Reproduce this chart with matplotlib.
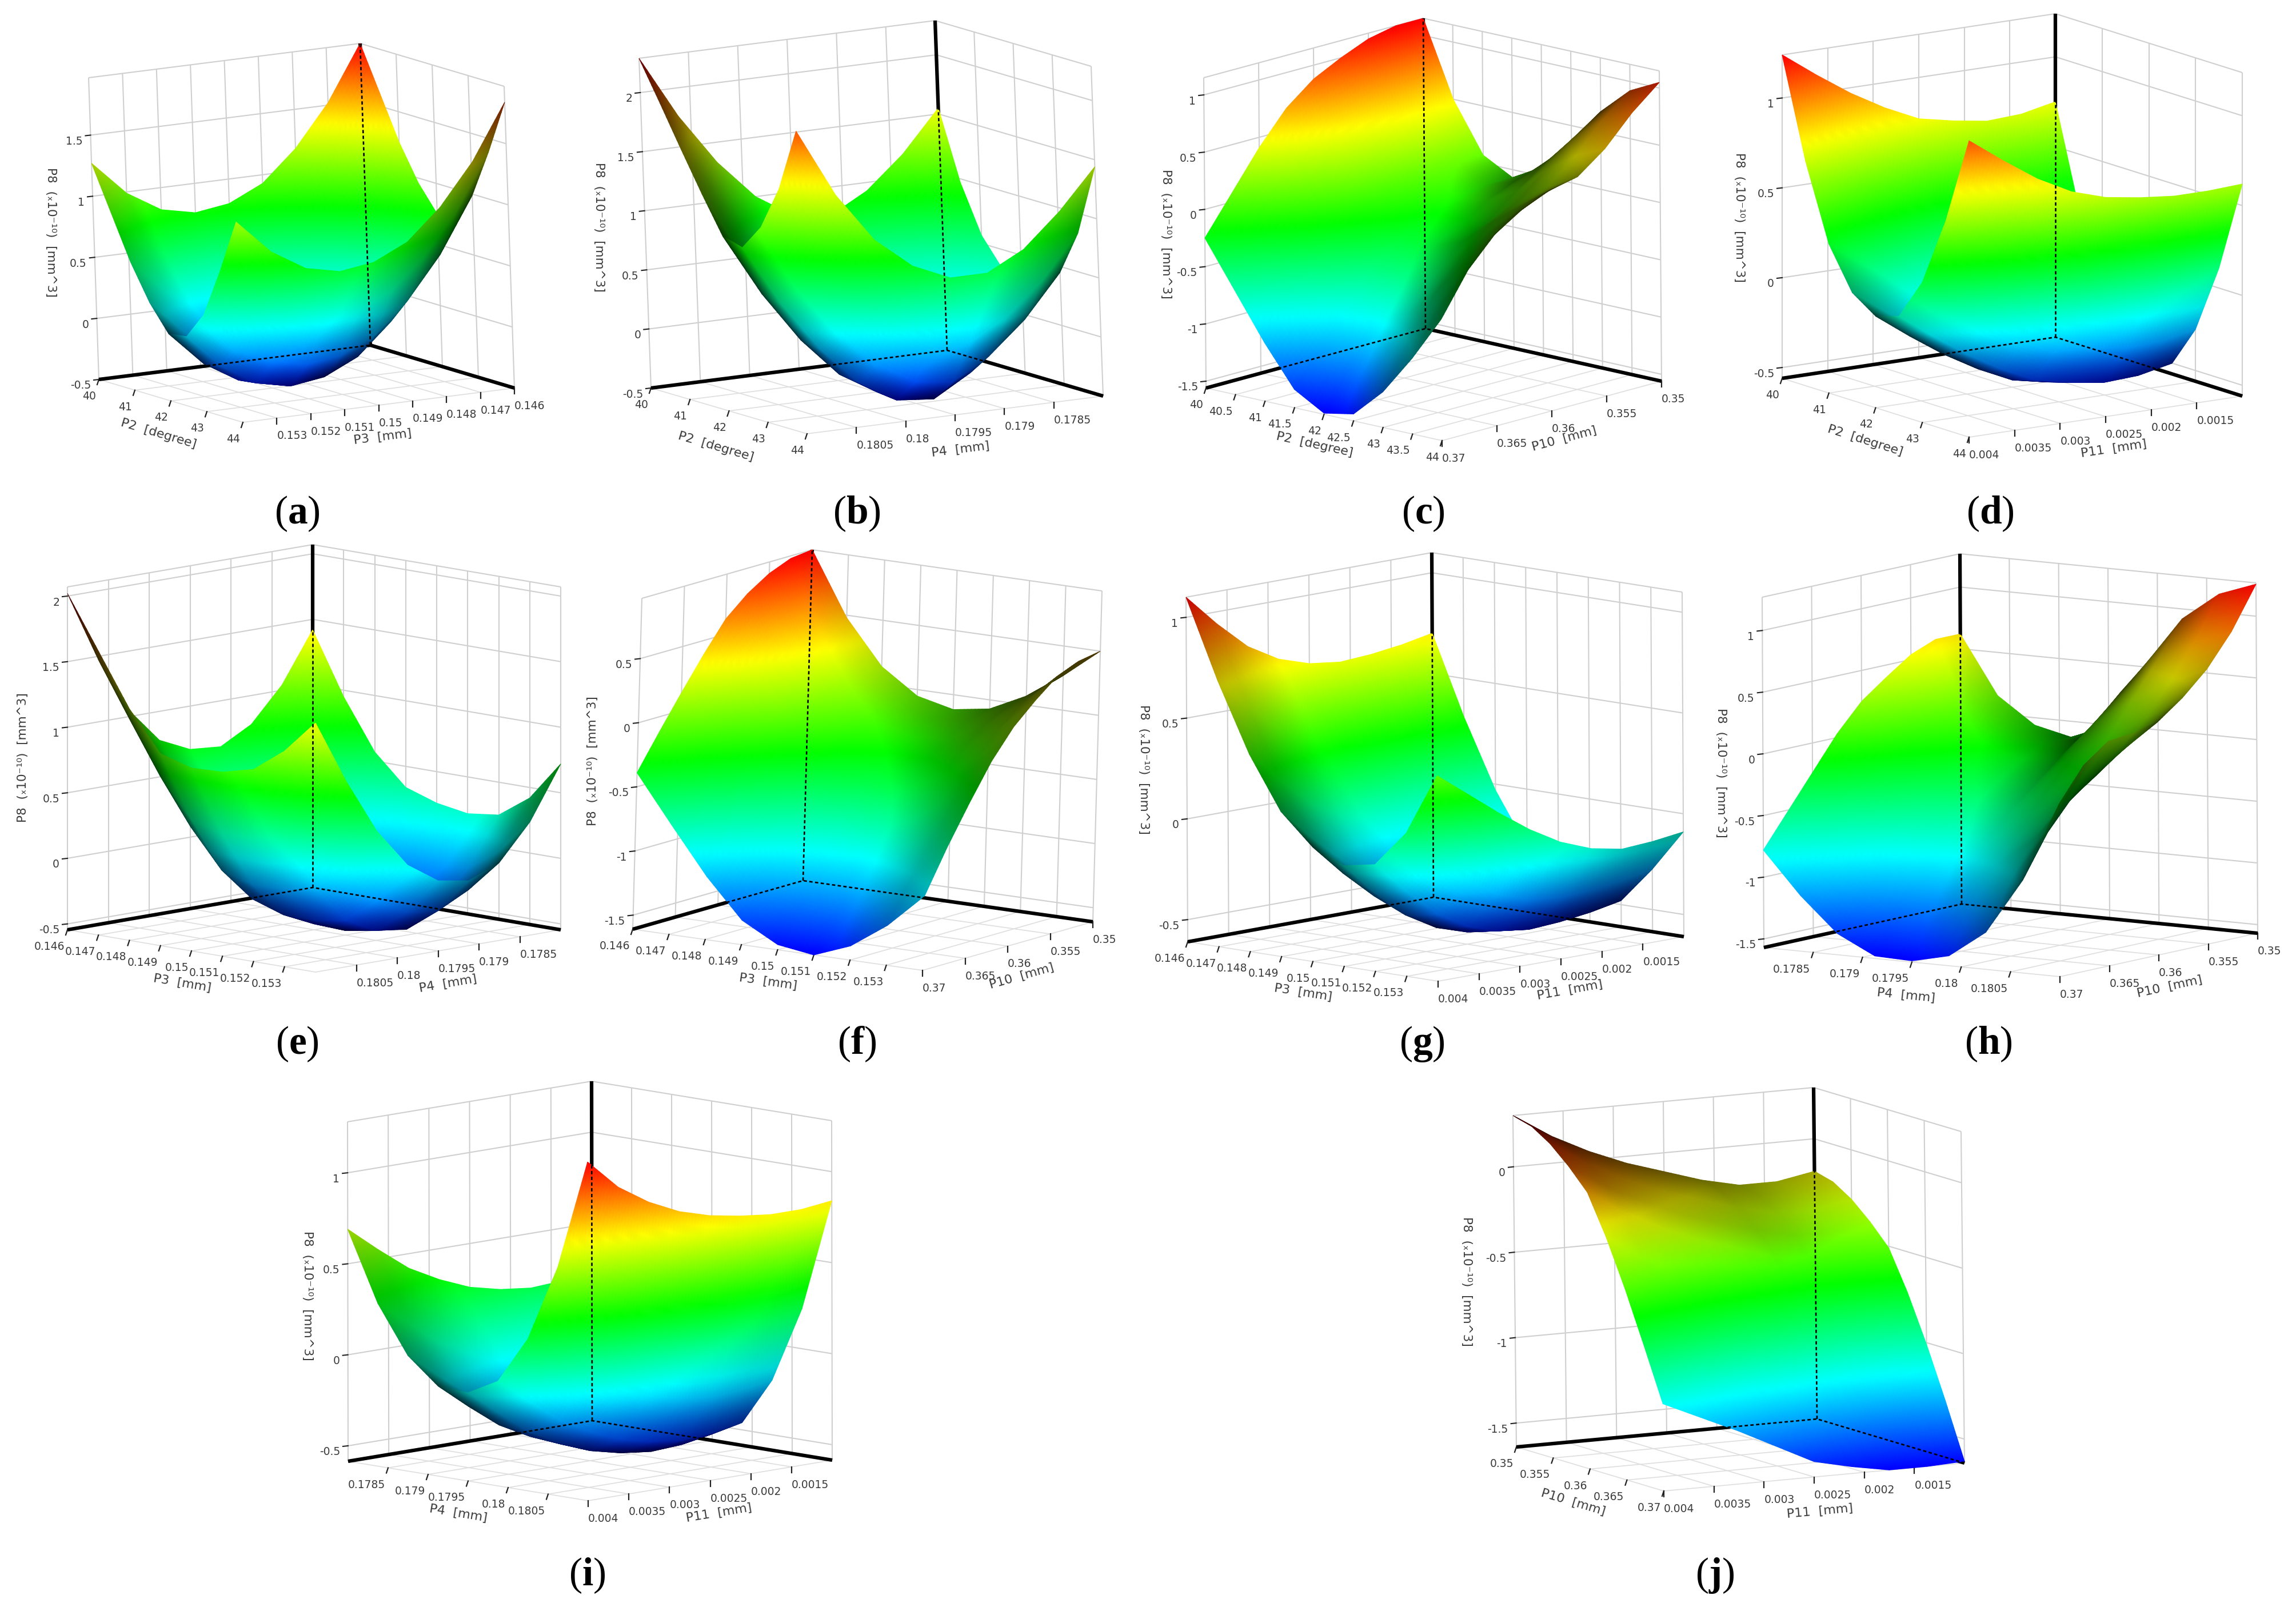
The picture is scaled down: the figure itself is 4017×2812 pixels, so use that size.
import numpy as np
import matplotlib
matplotlib.use("Agg")
import matplotlib.pyplot as plt
from matplotlib.collections import TriMesh
from matplotlib.colors import LinearSegmentedColormap
from matplotlib.tri import Triangulation

# axis ticks, first value is at the back of the box
P2_TICKS = [40, 41, 42, 43, 44]
P2_FINE_TICKS = [40, 40.5, 41, 41.5, 42, 42.5, 43, 43.5, 44]
P3_TICKS = [0.146, 0.147, 0.148, 0.149, 0.15, 0.151, 0.152, 0.153, 0.154]
P3_LABELS = ['0.146', '0.147', '0.148', '0.149', '0.15', '0.151', '0.152', '0.153', '']
P4_TICKS = [0.178, 0.1785, 0.179, 0.1795, 0.18, 0.1805, 0.181]
P4_LABELS = ['', '0.1785', '0.179', '0.1795', '0.18', '0.1805', '']
P10_TICKS = [0.35, 0.355, 0.36, 0.365, 0.37]
P10_LABELS = ['0.35', '0.355', '0.36', '0.365', '0.37']
P11_TICKS = [0.001, 0.0015, 0.002, 0.0025, 0.003, 0.0035, 0.004]
P11_LABELS = ['', '0.0015', '0.002', '0.0025', '0.003', '0.0035', '0.004']
P2_LABELS = ['40', '41', '42', '43', '44']
P2_FINE_LABELS = ['40', '40.5', '41', '41.5', '42', '42.5', '43', '43.5', '44']

# P8, rows follow the right axis, columns the left axis
Z_A = [[1.97, 1.61, 1.25, 0.96, 0.75, 0.77, 0.99, 1.39, 1.84],
       [1.52, 1.16, 0.80, 0.51, 0.30, 0.32, 0.54, 0.94, 1.39],
       [1.18, 0.82, 0.46, 0.17, -0.04, -0.02, 0.20, 0.60, 1.05],
       [0.93, 0.57, 0.21, -0.08, -0.29, -0.27, -0.05, 0.35, 0.80],
       [0.80, 0.44, 0.08, -0.21, -0.42, -0.40, -0.18, 0.22, 0.67],
       [0.76, 0.40, 0.04, -0.25, -0.46, -0.44, -0.22, 0.18, 0.63],
       [0.82, 0.46, 0.10, -0.19, -0.40, -0.38, -0.16, 0.24, 0.69],
       [0.99, 0.63, 0.27, -0.02, -0.23, -0.21, 0.01, 0.41, 0.86],
       [1.27, 0.91, 0.55, 0.26, 0.05, 0.07, 0.29, 0.69, 1.14]]
Z_B = [[1.55, 0.97, 0.57, 0.34, 0.25, 0.27, 0.45, 0.83, 1.44],
       [1.20, 0.65, 0.26, 0.02, -0.10, -0.09, 0.09, 0.47, 1.10],
       [0.93, 0.41, 0.03, -0.23, -0.37, -0.37, -0.18, 0.20, 0.82],
       [0.76, 0.27, -0.10, -0.37, -0.54, -0.55, -0.36, 0.02, 0.66],
       [0.80, 0.35, -0.02, -0.30, -0.50, -0.52, -0.32, 0.06, 0.66],
       [1.00, 0.58, 0.21, -0.08, -0.31, -0.33, -0.13, 0.25, 0.80],
       [1.33, 0.94, 0.58, 0.28, 0.02, -0.01, 0.20, 0.57, 1.06],
       [1.76, 1.40, 1.05, 0.73, 0.45, 0.41, 0.62, 1.00, 1.48],
       [2.29, 1.96, 1.62, 1.29, 0.98, 0.93, 1.15, 1.52, 2.06]]
Z_C = [[1.15, 0.50, 0.07, -0.07, 0.08, 0.35, 0.68, 0.92, 1.05],
       [1.15, 0.53, 0.10, -0.07, 0.02, 0.23, 0.51, 0.73, 0.85],
       [1.10, 0.51, 0.09, -0.12, -0.08, 0.06, 0.30, 0.48, 0.60],
       [1.00, 0.44, 0.02, -0.21, -0.22, -0.12, 0.10, 0.27, 0.42],
       [0.88, 0.36, -0.06, -0.32, -0.35, -0.26, -0.03, 0.17, 0.37],
       [0.69, 0.20, -0.22, -0.50, -0.55, -0.47, -0.24, 0.02, 0.27],
       [0.41, -0.05, -0.46, -0.76, -0.84, -0.76, -0.50, -0.19, 0.12],
       [0.08, -0.35, -0.76, -1.08, -1.19, -1.11, -0.86, -0.52, -0.13],
       [-0.25, -0.65, -1.05, -1.40, -1.55, -1.50, -1.25, -0.90, -0.50]]
Z_D = [[0.75, 0.20, -0.22, -0.45, -0.54, -0.50, -0.27, 0.11, 0.62],
       [0.71, 0.16, -0.26, -0.49, -0.58, -0.54, -0.31, 0.07, 0.61],
       [0.70, 0.15, -0.27, -0.50, -0.59, -0.55, -0.32, 0.06, 0.61],
       [0.73, 0.18, -0.24, -0.47, -0.56, -0.52, -0.29, 0.09, 0.63],
       [0.77, 0.22, -0.20, -0.43, -0.52, -0.48, -0.25, 0.13, 0.66],
       [0.86, 0.31, -0.11, -0.34, -0.43, -0.39, -0.16, 0.22, 0.72],
       [0.97, 0.42, 0.00, -0.23, -0.32, -0.28, -0.05, 0.33, 0.82],
       [1.10, 0.55, 0.13, -0.10, -0.19, -0.15, 0.08, 0.46, 0.95],
       [1.24, 0.69, 0.27, 0.04, -0.05, -0.01, 0.22, 0.60, 1.09]]
Z_E = [[1.42, 0.95, 0.57, 0.34, 0.26, 0.22, 0.25, 0.42, 0.72],
       [1.04, 0.58, 0.20, -0.04, -0.12, -0.15, -0.12, 0.05, 0.32],
       [0.78, 0.33, -0.06, -0.31, -0.38, -0.41, -0.37, -0.20, 0.05],
       [0.65, 0.21, -0.18, -0.44, -0.51, -0.53, -0.50, -0.32, -0.05],
       [0.67, 0.24, -0.16, -0.42, -0.50, -0.51, -0.47, -0.29, -0.01],
       [0.78, 0.35, -0.04, -0.31, -0.39, -0.39, -0.35, -0.17, 0.15],
       [1.05, 0.63, 0.24, -0.05, -0.12, -0.12, -0.07, 0.11, 0.45],
       [1.48, 1.07, 0.67, 0.38, 0.31, 0.32, 0.37, 0.55, 0.87],
       [2.02, 1.62, 1.22, 0.92, 0.85, 0.86, 0.92, 1.10, 1.355]]
Z_F = [[0.97, 0.48, 0.14, -0.05, -0.115, -0.07, 0.07, 0.27, 0.50],
       [0.95, 0.48, 0.13, -0.07, -0.15, -0.11, 0.02, 0.22, 0.47],
       [0.88, 0.42, 0.07, -0.14, -0.23, -0.21, -0.07, 0.13, 0.40],
       [0.77, 0.33, -0.02, -0.25, -0.35, -0.34, -0.21, -0.01, 0.26],
       [0.62, 0.19, -0.16, -0.41, -0.51, -0.51, -0.39, -0.19, 0.10],
       [0.39, -0.03, -0.38, -0.64, -0.75, -0.76, -0.64, -0.44, -0.12],
       [0.14, -0.26, -0.62, -0.89, -1.02, -1.04, -0.92, -0.72, -0.40],
       [-0.12, -0.51, -0.87, -1.15, -1.29, -1.32, -1.21, -1.01, -0.70],
       [-0.39, -0.76, -1.12, -1.42, -1.57, -1.61, -1.50, -1.30, -1.03]]
Z_G = [[0.70, 0.31, -0.03, -0.29, -0.44, -0.51, -0.48, -0.30, -0.09],
       [0.67, 0.28, -0.06, -0.32, -0.47, -0.54, -0.51, -0.33, -0.11],
       [0.65, 0.26, -0.08, -0.34, -0.49, -0.56, -0.53, -0.35, -0.12],
       [0.64, 0.25, -0.09, -0.35, -0.50, -0.57, -0.54, -0.36, -0.09],
       [0.66, 0.27, -0.07, -0.33, -0.48, -0.55, -0.52, -0.34, -0.03],
       [0.71, 0.32, -0.02, -0.28, -0.43, -0.50, -0.47, -0.29, 0.06],
       [0.80, 0.41, 0.07, -0.19, -0.34, -0.41, -0.38, -0.20, 0.17],
       [0.94, 0.55, 0.21, -0.05, -0.20, -0.27, -0.24, -0.06, 0.29],
       [1.10, 0.71, 0.37, 0.11, -0.04, -0.11, -0.08, 0.10, 0.41]]
Z_H = [[0.62, 0.15, -0.06, -0.13, 0.00, 0.52, 0.92, 1.15, 1.26],
       [0.62, 0.17, -0.05, -0.13, -0.06, 0.34, 0.63, 0.81, 0.92],
       [0.54, 0.10, -0.13, -0.22, -0.18, 0.14, 0.36, 0.52, 0.66],
       [0.40, -0.02, -0.26, -0.36, -0.35, -0.10, 0.09, 0.27, 0.47],
       [0.25, -0.16, -0.40, -0.51, -0.52, -0.33, -0.15, 0.05, 0.32],
       [0.03, -0.36, -0.61, -0.73, -0.74, -0.56, -0.37, -0.10, 0.27],
       [-0.24, -0.61, -0.88, -1.00, -1.00, -0.84, -0.60, -0.24, 0.25],
       [-0.51, -0.87, -1.14, -1.28, -1.27, -1.14, -0.90, -0.48, 0.10],
       [-0.78, -1.12, -1.40, -1.55, -1.56, -1.49, -1.27, -0.82, -0.17]]
Z_I = [[0.24, -0.14, -0.40, -0.54, -0.55, -0.46, -0.20, 0.22, 0.84],
       [0.21, -0.17, -0.43, -0.57, -0.58, -0.49, -0.23, 0.19, 0.82],
       [0.20, -0.18, -0.44, -0.58, -0.59, -0.50, -0.24, 0.18, 0.82],
       [0.22, -0.16, -0.42, -0.56, -0.57, -0.48, -0.22, 0.20, 0.84],
       [0.26, -0.12, -0.38, -0.52, -0.53, -0.44, -0.18, 0.24, 0.87],
       [0.33, -0.05, -0.31, -0.45, -0.46, -0.37, -0.11, 0.31, 0.92],
       [0.42, 0.04, -0.22, -0.36, -0.37, -0.28, -0.02, 0.40, 1.00],
       [0.55, 0.17, -0.09, -0.23, -0.24, -0.15, 0.11, 0.53, 1.11],
       [0.69, 0.31, 0.05, -0.09, -0.10, -0.01, 0.25, 0.67, 1.276]]
Z_J = [[-0.19, -0.22, -0.29, -0.39, -0.51, -0.74, -1.01, -1.31, -1.63],
       [-0.23, -0.26, -0.33, -0.43, -0.55, -0.78, -1.05, -1.35, -1.64],
       [-0.23, -0.26, -0.33, -0.43, -0.55, -0.78, -1.05, -1.35, -1.64],
       [-0.18, -0.21, -0.28, -0.38, -0.50, -0.73, -1.00, -1.30, -1.60],
       [-0.11, -0.14, -0.21, -0.31, -0.43, -0.66, -0.93, -1.23, -1.55],
       [-0.04, -0.07, -0.14, -0.24, -0.36, -0.59, -0.86, -1.16, -1.44],
       [0.05, 0.02, -0.05, -0.15, -0.27, -0.50, -0.77, -1.07, -1.33],
       [0.16, 0.13, 0.06, -0.04, -0.16, -0.39, -0.66, -0.96, -1.23],
       [0.30, 0.27, 0.20, 0.10, -0.02, -0.25, -0.52, -0.82, -1.13]]

Z_TICKS_A = [-0.5, 0, 0.5, 1, 1.5]
Z_TICKS_B = [-0.5, 0, 0.5, 1, 1.5, 2]
Z_TICKS_C = [-1.5, -1, -0.5, 0, 0.5, 1]
Z_TICKS_D = [-0.5, 0, 0.5, 1]
Z_TICKS_F = [-1.5, -1, -0.5, 0, 0.5]
Z_TICKS_J = [-1.5, -1, -0.5, 0]

Z_LABEL = 'P8  (\u209310\u207b\u00b9\u2070)  [mm^3]'

# letter, table, z range, z ticks, left axis, right axis
PANELS = [
    ('a', Z_A, -0.50, 1.97, Z_TICKS_A, 'P2  [degree]', P2_TICKS, P2_LABELS, 'P3  [mm]', P3_TICKS, P3_LABELS),
    ('b', Z_B, -0.50, 2.29, Z_TICKS_B, 'P2  [degree]', P2_TICKS, P2_LABELS, 'P4  [mm]', P4_TICKS, P4_LABELS),
    ('c', Z_C, -1.56, 1.15, Z_TICKS_C, 'P2  [degree]', P2_FINE_TICKS, P2_FINE_LABELS, 'P10  [mm]', P10_TICKS, P10_LABELS),
    ('d', Z_D, -0.56, 1.24, Z_TICKS_D, 'P2  [degree]', P2_TICKS, P2_LABELS, 'P11  [mm]', P11_TICKS, P11_LABELS),
    ('e', Z_E, -0.545, 2.07, Z_TICKS_B, 'P3  [mm]', P3_TICKS, P3_LABELS, 'P4  [mm]', P4_TICKS, P4_LABELS),
    ('f', Z_F, -1.61, 0.97, Z_TICKS_F, 'P3  [mm]', P3_TICKS, P3_LABELS, 'P10  [mm]', P10_TICKS, P10_LABELS),
    ('g', Z_G, -0.61, 1.10, Z_TICKS_D, 'P3  [mm]', P3_TICKS, P3_LABELS, 'P11  [mm]', P11_TICKS, P11_LABELS),
    ('h', Z_H, -1.57, 1.27, Z_TICKS_C, 'P4  [mm]', P4_TICKS, P4_LABELS, 'P10  [mm]', P10_TICKS, P10_LABELS),
    ('i', Z_I, -0.585, 1.28, Z_TICKS_D, 'P4  [mm]', P4_TICKS, P4_LABELS, 'P11  [mm]', P11_TICKS, P11_LABELS),
    ('j', Z_J, -1.64, 0.30, Z_TICKS_J, 'P10  [mm]', P10_TICKS, P10_LABELS, 'P11  [mm]', P11_TICKS, P11_LABELS),
]

# box corners in pixels: back, left, right, top of the back edge
BOXES = {
    'a': ((648, 604), (173, 664), (900, 679), (630, 76)),
    'b': ((1657, 613), (1139, 679), (1930, 693), (1636, 36)),
    'c': ((2494, 575), (2110, 679), (2907, 667), (2490, 32)),
    'd': ((3596, 590), (3118, 662), (3923, 693), (3596, 24)),
    'e': ((547, 1553), (118, 1627), (981, 1627), (547, 953)),
    'f': ((1405, 1541), (1107, 1626), (1912, 1613), (1421, 962)),
    'g': ((2508, 1570), (2078, 1648), (2946, 1639), (2505, 967)),
    'h': ((3432, 1582), (3086, 1658), (3950, 1633), (3429, 969)),
    'i': ((1036, 2486), (609, 2557), (1456, 2555), (1035, 1892)),
    'j': ((3179, 2483), (2653, 2532), (3437, 2560), (3173, 1903)),
}
# centres of left title, right title, z title (with its rotation), caption
TITLES = {
    'a': ((277, 759), (670, 765), (89, 406, 270), (520, 899)),
    'b': ((1252, 782), (1681, 787), (1048, 397, 270), (1499, 899)),
    'c': ((2300, 778), (2737, 768), (2040, 409, 270), (2490, 899)),
    'd': ((3263, 771), (3698, 785), (3043, 380, 270), (3482, 899)),
    'e': ((319, 1721), (784, 1721), (40, 1326, 90), (520, 1827)),
    'f': ((1344, 1718), (1788, 1708), (1037, 1332, 90), (1499, 1827)),
    'g': ((2280, 1737), (2747, 1733), (2001, 1346, 270), (2488, 1827)),
    'h': ((3335, 1742), (3796, 1727), (3011, 1352, 270), (3479, 1827)),
    'i': ((802, 2648), (1258, 2648), (538, 2267, 270), (1027, 2757)),
    'j': ((2752, 2629), (3184, 2645), (2566, 2242, 270), (3000, 2757)),
}

plt.rcParams['mathtext.fontset'] = 'custom'
plt.rcParams['mathtext.rm'] = 'Liberation Serif'
plt.rcParams['mathtext.bf'] = 'Liberation Serif:bold'

SUB = 10  # colour steps inside one table cell
TEXT = '#3a3a3a'
rainbow = LinearSegmentedColormap.from_list(
    'surf', ['#0000ff', '#00ffff', '#00ff00', '#ffff00', '#ff0000'], N=512)

fig = plt.figure(figsize=(40.17, 28.12), dpi=100)
ax = fig.add_axes([0, 0, 1, 1])
ax.set_xlim(0, 4017)
ax.set_ylim(2812, 0)
ax.axis('off')


def refine(a, grid, fine):
    a = np.array([np.interp(fine, grid, row) for row in a])
    return np.array([np.interp(fine, grid, col) for col in a.T]).T


def draw_surface(box, table, zlo, zhi):
    O, L, R, T = [np.array(p, float) for p in box]
    z = np.array(table, float)
    n = z.shape[0]
    grid = np.linspace(0, 1, n)
    w = (z - zlo) / (zhi - zlo)
    # brightness follows how much the surface faces the viewer
    view = np.cross([L[0] - O[0], R[0] - O[0], T[0] - O[0]],
                    [L[1] - O[1], R[1] - O[1], T[1] - O[1]])
    view = view / np.linalg.norm(view)
    ds, dt = np.gradient(w, grid, grid)
    facing = np.abs(-ds * view[0] - dt * view[1] + view[2]) / np.sqrt(ds**2 + dt**2 + 1)

    fine = np.linspace(0, 1, (n - 1) * SUB + 1)
    zf = refine(z, grid, fine)
    wf = refine(w, grid, fine)
    ff = refine(facing, grid, fine)
    sg, tg = np.meshgrid(fine, fine, indexing='ij')
    x = O[0] + sg * (L[0] - O[0]) + tg * (R[0] - O[0]) + wf * (T[0] - O[0])
    y = O[1] + sg * (L[1] - O[1]) + tg * (R[1] - O[1]) + wf * (T[1] - O[1])

    rgba = rainbow((zf - z.min()) / (z.max() - z.min()))
    rgba[..., :3] *= np.clip(0.2 + 1.4 * ff, 0, 1)[..., None]

    # cells from the back corner to the front one so near ones paint last
    m = fine.size
    idx = np.arange(m * m).reshape(m, m)
    a, b, c, d = idx[:-1, :-1].ravel(), idx[:-1, 1:].ravel(), idx[1:, 1:].ravel(), idx[1:, :-1].ravel()
    tris = np.empty((a.size * 2, 3), dtype=int)
    tris[0::2] = np.column_stack((a, b, c))
    tris[1::2] = np.column_stack((a, c, d))
    mesh = TriMesh(Triangulation(x.ravel(), y.ravel(), tris), zorder=3)
    mesh.set_facecolor(rgba.reshape(-1, 4))
    ax.add_collection(mesh)


def seg(p, q, **kw):
    ax.plot([p[0], q[0]], [p[1], q[1]], solid_capstyle='butt', **kw)


for letter, table, zlo, zhi, zticks, ltitle, lticks, llabels, rtitle, rticks, rlabels in PANELS:
    box = BOXES[letter]
    O, L, R, T = [np.array(p, float) for p in box]
    F = L + R - O
    up = T - O
    grey = dict(color='#cfcfcf', lw=1.5, zorder=1)
    floor = dict(color='#dedede', lw=1.2, zorder=1)

    # back walls
    for v in rticks:
        s = (v - rticks[0]) / (rticks[-1] - rticks[0])
        p = O + s * (L - O)
        seg(p, p + up, **grey)
        seg(p, p + R - O, **floor)
    for v in lticks:
        t = (v - lticks[0]) / (lticks[-1] - lticks[0])
        p = O + t * (R - O)
        seg(p, p + up, **grey)
        seg(p, p + L - O, **floor)
    for zv in list(zticks) + [zhi]:
        h = (zv - zlo) / (zhi - zlo) * up
        seg(L + h, O + h, **grey)
        seg(O + h, R + h, **grey)

    # heavy axes behind the surface, dashed over it
    heavy = dict(color='black', lw=4.5, zorder=2)
    seg(L, O, **heavy)
    seg(O, R, **heavy)
    seg(O, T, **heavy)

    draw_surface(box, table, zlo, zhi)

    dash = dict(color='black', lw=1.9, dashes=(2.2, 1.6), zorder=4)
    ax.plot([L[0], O[0], R[0]], [L[1], O[1], R[1]], **dash)
    ax.plot([O[0], T[0]], [O[1], T[1]], **dash)

    # z ticks
    for zv in zticks:
        p = L + (zv - zlo) / (zhi - zlo) * up
        ax.plot([p[0], p[0] - 9], [p[1], p[1] + 1], color='#222222', lw=1.5, zorder=2)
        ax.text(p[0] - 14, p[1] + 11, '%g' % zv, ha='right', va='center',
                fontsize=13.5, color=TEXT)

    # left axis, from the left corner to the front corner
    for v, lab in zip(lticks, llabels):
        if not lab:
            continue
        t = (v - lticks[0]) / (lticks[-1] - lticks[0])
        p = L + t * (F - L)
        ax.plot([p[0], p[0] - 3], [p[1], p[1] + 9], color='#222222', lw=1.6, zorder=2)
        ax.text(p[0] - 5, p[1] + 20, lab, ha='right', va='top', fontsize=13.5, color=TEXT)

    # right axis, from the right corner to the front corner
    for v, lab in zip(rticks, rlabels):
        if not lab:
            continue
        s = (v - rticks[0]) / (rticks[-1] - rticks[0])
        p = R + s * (F - R)
        ax.plot([p[0], p[0]], [p[1], p[1] + 10], color='#222222', lw=1.6, zorder=2)
        ax.text(p[0], p[1] + 22, lab, ha='left', va='top', fontsize=13.5, color=TEXT)

    lt, rt, zt, cap = TITLES[letter]
    d1 = F - L
    d2 = R - F
    ax.text(lt[0], lt[1], ltitle, ha='center', va='center', fontsize=16, color=TEXT,
            rotation=-np.degrees(np.arctan2(d1[1], d1[0])), rotation_mode='anchor')
    ax.text(rt[0], rt[1], rtitle, ha='center', va='center', fontsize=16, color=TEXT,
            rotation=-np.degrees(np.arctan2(d2[1], d2[0])), rotation_mode='anchor')
    ax.text(zt[0], zt[1], Z_LABEL, ha='center', va='center', fontsize=15.5, color=TEXT,
            rotation=zt[2])
    ax.text(cap[0], cap[1], r'$\mathrm{(}\mathbf{%s}\mathrm{)}$' % letter,
            ha='center', va='center', fontsize=50, color='black')

fig.savefig('out.png', dpi=100)
